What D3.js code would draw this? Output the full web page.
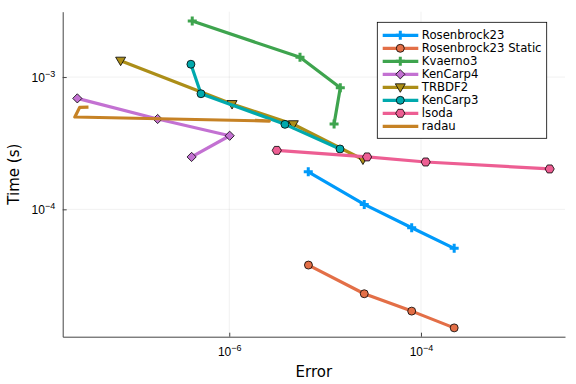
<!DOCTYPE html>
<html>
<head>
<meta charset="utf-8">
<script src="https://cdn.jsdelivr.net/npm/d3@7"></script>
<style>
  body { margin: 0; background: #fff; }
  svg { font-family: "DejaVu Sans", sans-serif; }
</style>
</head>
<body>
<svg id="chart" width="576" height="384"></svg>
<script>
const SVG = d3.select("#chart");
const WIDTH = 576;
const HEIGHT = 384;
const MARGIN = { top: 11.7, bottom: 47.3, right: 11, left: 62.7 };
const INNERWIDTH = WIDTH - MARGIN.left - MARGIN.right;
const INNERHEIGHT = HEIGHT - MARGIN.top - MARGIN.bottom;

// values (error, time in seconds)
const seriesNames = ["Rosenbrock23", "Rosenbrock23 Static", "Kvaerno3", "KenCarp4", "TRBDF2", "KenCarp3", "lsoda", "radau"];
const seriesColors = ["#009AFA", "#E36F47", "#3EA44E", "#C371D2", "#AC8E18", "#00A9AD", "#ED5E93", "#C68225"];
const seriesMarkers = ["cross", "circle", "cross", "diamond", "dtriangle", "circle", "hexagon", "none"];

const rosenbrockErr = [6.67e-6, 2.56e-5, 8.0e-5, 2.22e-4];
const rosenbrockTime = [1.92e-4, 1.09e-4, 7.26e-5, 5.07e-5];
const rosenbrockStaticErr = [6.7e-6, 2.56e-5, 8.0e-5, 2.22e-4];
const rosenbrockStaticTime = [3.79e-5, 2.30e-5, 1.70e-5, 1.27e-5];
const kvaernoErr = [4.11e-7, 5.47e-6, 1.44e-5, 1.24e-5];
const kvaernoTime = [2.65e-3, 1.41e-3, 8.3e-4, 4.41e-4];
const kencarp4Err = [2.6e-8, 1.79e-7, 1.01e-6, 4.05e-7];
const kencarp4Time = [6.9e-4, 4.82e-4, 3.6e-4, 2.49e-4];
const trbdfErr = [7.36e-8, 1.07e-6, 4.66e-6, 2.48e-5];
const trbdfTime = [1.33e-3, 6.25e-4, 4.4e-4, 2.38e-4];
const kencarp3Err = [3.98e-7, 5.07e-7, 3.81e-6, 1.43e-5];
const kencarp3Time = [1.25e-3, 7.48e-4, 4.39e-4, 2.86e-4];
const lsodaErr = [3.13e-6, 2.74e-5, 1.12e-4, 2.2e-3];
const lsodaTime = [2.79e-4, 2.49e-4, 2.28e-4, 2.02e-4];
const radauErr = [3.4e-8, 2.75e-8, 2.45e-8, 2.62e-6, 1.85e-6];
const radauTime = [5.93e-4, 5.9e-4, 4.99e-4, 4.65e-4, 4.71e-4];

const xTicks = [1e-6, 1e-4];
const yTicks = [1e-4, 1e-3];
const xDomain = [1.83e-8, 3.18e-3];
const yDomain = [1.089e-5, 3.12e-3];

const allErr = [rosenbrockErr, rosenbrockStaticErr, kvaernoErr, kencarp4Err, trbdfErr, kencarp3Err, lsodaErr, radauErr];
const allTime = [rosenbrockTime, rosenbrockStaticTime, kvaernoTime, kencarp4Time, trbdfTime, kencarp3Time, lsodaTime, radauTime];

const xScale = d3.scaleLog().domain(xDomain).range([0, INNERWIDTH]);
const yScale = d3.scaleLog().domain(yDomain).range([INNERHEIGHT, 0]);

const plot = SVG.append("g")
  .attr("transform", "translate(" + MARGIN.left + "," + MARGIN.top + ")");

const markerPath = (type) => {
  if (type === "circle") return d3.symbol(d3.symbolCircle, 50)();
  if (type === "cross") return d3.symbol(d3.symbolCross, 45)();
  if (type === "diamond") return "M0,-4.6L4.6,0L0,4.6L-4.6,0Z";
  if (type === "dtriangle") return "M-5,-3.5L5,-3.5L0,5Z";
  if (type === "hexagon") {
    const pts = d3.range(6).map((i) => {
      const a = (Math.PI / 3) * i;
      return [4.6 * Math.cos(a), 4.6 * Math.sin(a)];
    });
    return "M" + pts.join("L") + "Z";
  }
  return null;
};

const drawMarker = (g, type, color, x, y) => {
  if (type === "none") return;
  g.append("path")
    .attr("d", markerPath(type))
    .attr("transform", "translate(" + x + "," + y + ")")
    .attr("fill", color)
    .attr("stroke", type === "cross" ? "none" : "#000")
    .attr("stroke-width", 0.8);
};

const supLabel = (sel, exp) => {
  sel.append("tspan").text("10");
  sel.append("tspan")
    .attr("dy", "-0.55em")
    .attr("font-size", "9px")
    .text("\u2212" + exp);
};

const drawAxes = () => {
  // grid
  plot.append("g")
    .selectAll("line")
    .data(xTicks)
    .join("line")
    .attr("x1", (d) => xScale(d))
    .attr("x2", (d) => xScale(d))
    .attr("y1", 0)
    .attr("y2", INNERHEIGHT)
    .attr("stroke", "#000")
    .attr("stroke-opacity", 0.1)
    .attr("stroke-width", 0.6);
  plot.append("g")
    .selectAll("line")
    .data(yTicks)
    .join("line")
    .attr("x1", 0)
    .attr("x2", INNERWIDTH)
    .attr("y1", (d) => yScale(d))
    .attr("y2", (d) => yScale(d))
    .attr("stroke", "#000")
    .attr("stroke-opacity", 0.1)
    .attr("stroke-width", 0.6);

  const xAxis = plot.append("g")
    .attr("transform", "translate(0," + INNERHEIGHT + ")")
    .call(d3.axisBottom(xScale).tickValues(xTicks).tickSize(-4).tickSizeOuter(0).tickFormat(""));
  const yAxis = plot.append("g")
    .call(d3.axisLeft(yScale).tickValues(yTicks).tickSize(-4).tickSizeOuter(0).tickFormat(""));

  [xAxis, yAxis].forEach((ax) => {
    ax.select(".domain").attr("stroke", "#444").attr("stroke-width", 1);
    ax.selectAll(".tick line").attr("stroke", "#444").attr("stroke-width", 1);
  });

  xAxis.selectAll(".tick").each(function (d) {
    const t = d3.select(this).append("text")
      .attr("y", 19)
      .attr("fill", "#000")
      .attr("font-size", "12px")
      .attr("text-anchor", "middle");
    supLabel(t, -Math.log10(d));
  });
  yAxis.selectAll(".tick").each(function (d) {
    const t = d3.select(this).append("text")
      .attr("x", -7.5)
      .attr("y", 4)
      .attr("fill", "#000")
      .attr("font-size", "12px")
      .attr("text-anchor", "end");
    supLabel(t, -Math.log10(d));
  });

  plot.append("text")
    .attr("x", INNERWIDTH / 2)
    .attr("y", INNERHEIGHT + 40)
    .attr("text-anchor", "middle")
    .attr("font-size", "15px")
    .text("Error");
  plot.append("text")
    .attr("transform", "translate(-44," + INNERHEIGHT / 2 + ") rotate(-90)")
    .attr("text-anchor", "middle")
    .attr("font-size", "15px")
    .text("Time (s)");
};

const drawSeries = () => {
  const line = d3.line()
    .x((d) => xScale(d[0]))
    .y((d) => yScale(d[1]));
  seriesNames.forEach((name, i) => {
    const pts = allErr[i].map((e, j) => [e, allTime[i][j]]);
    const g = plot.append("g").attr("class", "series");
    g.append("path")
      .datum(pts)
      .attr("d", line)
      .attr("fill", "none")
      .attr("stroke", seriesColors[i])
      .attr("stroke-width", 3.2)
      .attr("stroke-linejoin", "round");
    pts.forEach((p) => drawMarker(g, seriesMarkers[i], seriesColors[i], xScale(p[0]), yScale(p[1])));
  });
};

const drawLegend = () => {
  const lg = SVG.append("g").attr("transform", "translate(377.3,22.3)");
  lg.append("rect")
    .attr("width", 169.4)
    .attr("height", 116)
    .attr("fill", "#fff")
    .attr("stroke", "#000")
    .attr("stroke-width", 0.8);
  seriesNames.forEach((name, i) => {
    const y = 13 + i * 13;
    lg.append("line")
      .attr("x1", 5.4)
      .attr("x2", 41)
      .attr("y1", y)
      .attr("y2", y)
      .attr("stroke", seriesColors[i])
      .attr("stroke-width", 3.2);
    drawMarker(lg, seriesMarkers[i], seriesColors[i], 23, y);
    lg.append("text")
      .attr("x", 44.5)
      .attr("y", y + 4.2)
      .attr("font-size", "11.7px")
      .text(name);
  });
};

drawAxes();
drawSeries();
drawLegend();
</script>
</body>
</html>
